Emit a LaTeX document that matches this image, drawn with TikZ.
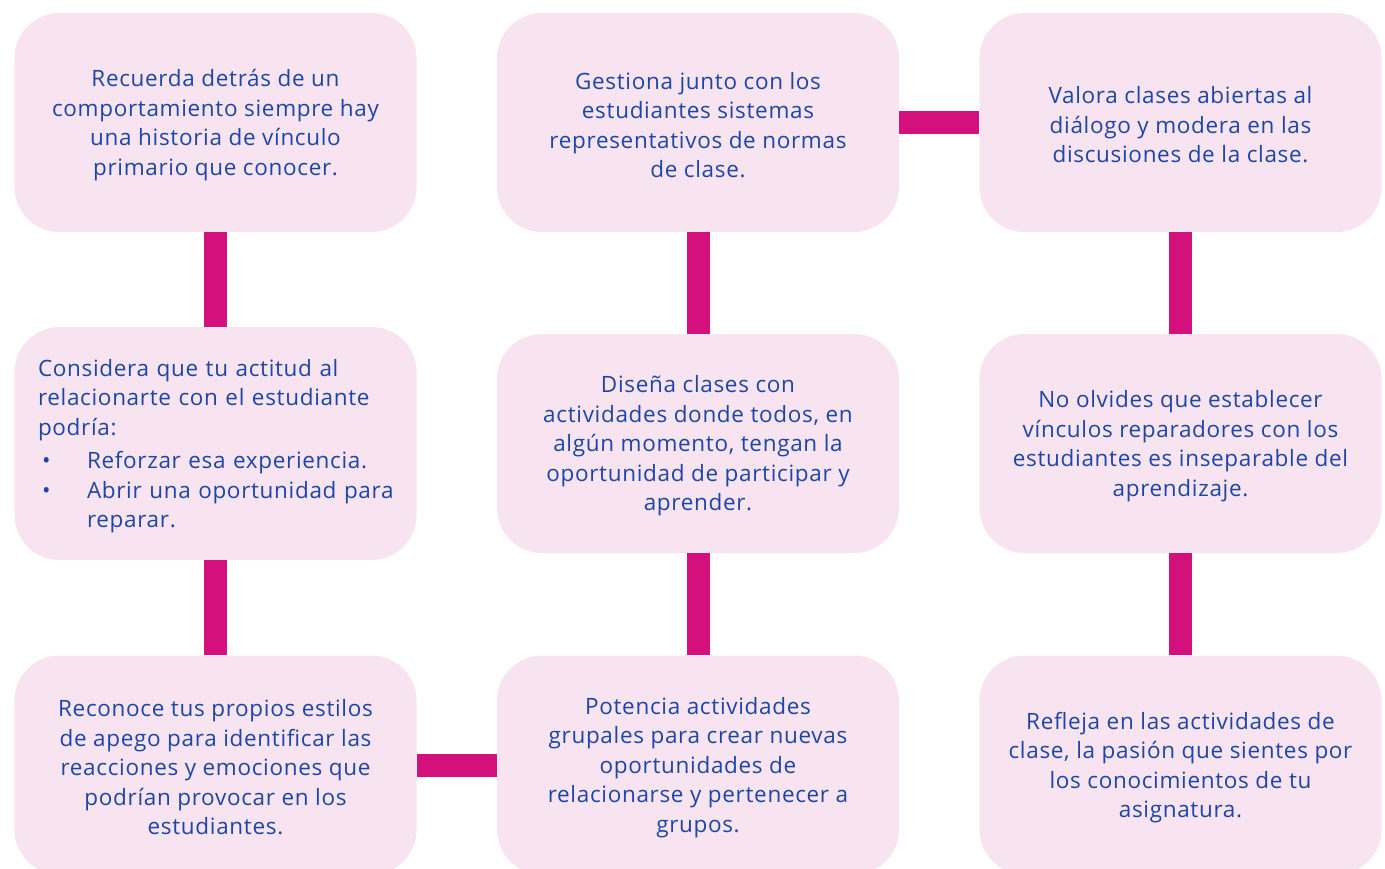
\documentclass[tikz,border=0pt]{standalone}
\usepackage{fontspec}
\setmainfont[LetterSpace=3]{Open Sans}
\definecolor{boxfill}{HTML}{F8E3F0}
\definecolor{connc}{HTML}{D4107C}
\definecolor{txt}{HTML}{1B46A8}
\begin{document}
\begin{tikzpicture}[x=1pt,y=-1pt,
  card/.style={fill=boxfill, rounded corners=45pt, minimum width=402pt,
    minimum height=219pt, inner sep=0pt},
  tx/.style={inner sep=0pt, text=txt, font=\fontsize{22.5}{29.5}\selectfont, align=center},
  link/.style={draw=connc, line width=23pt}]
\useasboundingbox (0,0) rectangle (1385,869);
\clip (0,0) rectangle (1385,869);
\node[card] (a1) at (215.5,122.5) {};
\node[card, minimum height=233pt] (a2) at (215.5,443.5) {};
\node[card] (a3) at (215.5,765) {};
\node[card] (b1) at (698,122.5) {};
\node[card] (b2) at (698,443.5) {};
\node[card] (b3) at (698,765) {};
\node[card] (c1) at (1180.5,122.5) {};
\node[card] (c2) at (1180.5,443.5) {};
\node[card] (c3) at (1180.5,765) {};
\node[tx] (a1t) at ([yshift=-2.5pt]a1.center) {Recuerda detrás de un\\comportamiento siempre hay\\una historia de vínculo\\primario que conocer.};
\node[tx, text width=355pt, align=left] (a2t) at ([yshift=-2.5pt]a2.center) {Considera que tu actitud al\\relacionarte con el estudiante\\podría:\\[4pt]\makebox[49pt][l]{\hspace*{4pt}•}Reforzar esa experiencia.\\\makebox[49pt][l]{\hspace*{4pt}•}Abrir una oportunidad para\\\hspace*{49pt}reparar.};
\node[tx] (a3t) at ([yshift=-2.5pt]a3.center) {Reconoce tus propios estilos\\de apego para identificar las\\reacciones y emociones que\\podrían provocar en los\\estudiantes.};
\node[tx] (b1t) at ([yshift=-2.5pt]b1.center) {Gestiona junto con los\\estudiantes sistemas\\representativos de normas\\de clase.};
\node[tx] (b2t) at ([yshift=-2.5pt]b2.center) {Diseña clases con\\actividades donde todos, en\\algún momento, tengan la\\oportunidad de participar y\\aprender.};
\node[tx] (b3t) at ([yshift=-2.5pt]b3.center) {Potencia actividades\\grupales para crear nuevas\\oportunidades de\\relacionarse y pertenecer a\\grupos.};
\node[tx] (c1t) at ([yshift=-2.5pt]c1.center) {Valora clases abiertas al\\diálogo y modera en las\\discusiones de la clase.};
\node[tx] (c2t) at ([yshift=-2.5pt]c2.center) {No olvides que establecer\\vínculos reparadores con los\\estudiantes es inseparable del\\aprendizaje.};
\node[tx] (c3t) at ([yshift=-2.5pt]c3.center) {Refleja en las actividades de\\clase, la pasión que sientes por\\los conocimientos de tu\\asignatura.};
\draw[link] (a1.south) -- (a2.north);
\draw[link] (a2.south) -- (a3.north);
\draw[link] (a3.east) -- (b3.west);
\draw[link] (b3.north) -- (b2.south);
\draw[link] (b2.north) -- (b1.south);
\draw[link] (b1.east) -- (c1.west);
\draw[link] (c1.south) -- (c2.north);
\draw[link] (c2.south) -- (c3.north);
\end{tikzpicture}
\end{document}
